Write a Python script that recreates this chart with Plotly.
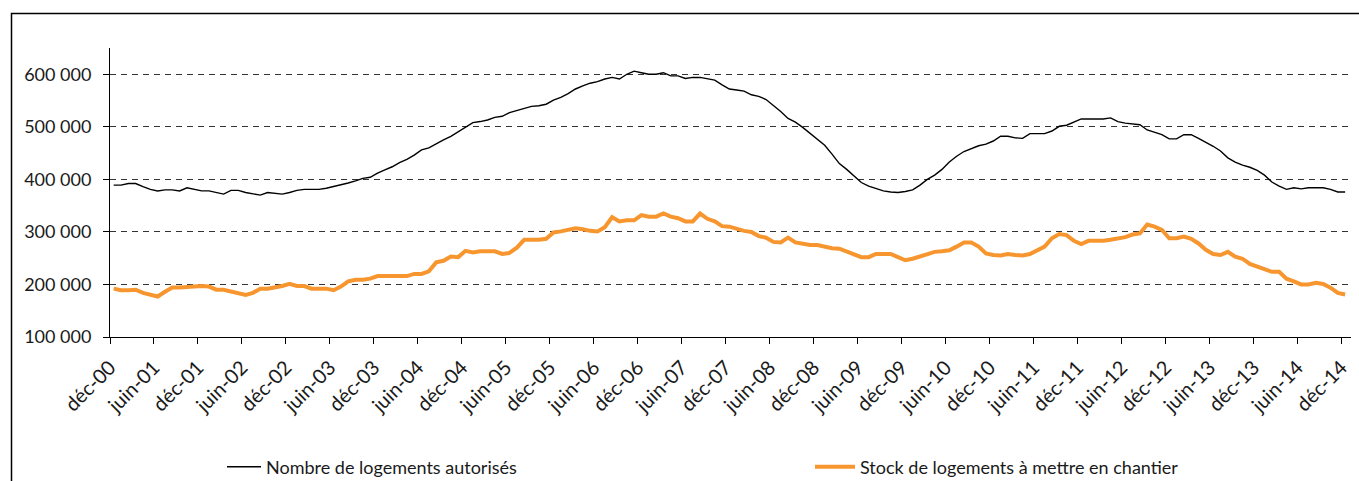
import plotly.graph_objects as go

# Monthly series, déc-2000 .. déc-2014 (169 months)
autorises = [
    389000, 389000, 392000, 392000, 386000, 381000, 378000, 380000, 380000, 378000,
    384000, 381000, 378000, 378000, 375000, 372000, 379000, 379000, 375000, 372000,
    370000, 375000, 373000, 372000, 375000, 379000, 381000, 381000, 381000, 383000,
    386000, 390000, 393000, 397000, 402000, 404000, 412000, 418000, 424000, 432000,
    438000, 446000, 456000, 460000, 468000, 475000, 482000, 491000, 500000, 508000,
    510000, 513000, 518000, 520000, 527000, 531000, 534000, 539000, 540000, 543000,
    551000, 556000, 563000, 572000, 578000, 583000, 586000, 591000, 594000, 591000,
    600000, 606000, 603000, 600000, 600000, 603000, 597000, 597000, 592000, 594000,
    594000, 591000, 589000, 580000, 572000, 570000, 568000, 561000, 558000, 552000,
    541000, 529000, 516000, 509000, 499000, 488000, 476000, 465000, 448000, 430000,
    419000, 406000, 394000, 387000, 382000, 378000, 376000, 375000, 377000, 380000,
    389000, 400000, 408000, 419000, 433000, 444000, 453000, 459000, 464000, 467000,
    473000, 482000, 482000, 479000, 478000, 487000, 487000, 487000, 492000, 501000,
    503000, 509000, 515000, 515000, 515000, 515000, 517000, 510000, 507000, 505000,
    504000, 494000, 490000, 485000, 477000, 477000, 485000, 485000, 478000, 471000,
    463000, 454000, 441000, 433000, 427000, 423000, 417000, 408000, 395000, 387000,
    381000, 384000, 382000, 384000, 384000, 384000, 381000, 376000, 376000,
]

stock = [
    192000, 189000, 189000, 190000, 184000, 181000, 177000, 186000, 194000, 194000,
    195000, 197000, 197000, 196000, 190000, 190000, 187000, 184000, 180000, 184000,
    192000, 192000, 194000, 197000, 201000, 197000, 197000, 192000, 192000, 192000,
    189000, 196000, 206000, 209000, 209000, 211000, 216000, 216000, 216000, 216000,
    216000, 220000, 220000, 225000, 242000, 245000, 253000, 252000, 264000, 261000,
    263000, 263000, 263000, 258000, 260000, 270000, 285000, 285000, 285000, 287000,
    299000, 301000, 304000, 307000, 305000, 302000, 301000, 309000, 328000, 320000,
    322000, 322000, 332000, 329000, 329000, 335000, 329000, 326000, 320000, 320000,
    335000, 325000, 320000, 311000, 310000, 305000, 302000, 300000, 292000, 289000,
    281000, 280000, 289000, 280000, 277000, 275000, 275000, 272000, 269000, 268000,
    263000, 259000, 252000, 252000, 258000, 258000, 258000, 252000, 246000, 249000,
    254000, 259000, 262000, 263000, 265000, 272000, 280000, 280000, 272000, 259000,
    256000, 255000, 258000, 256000, 255000, 258000, 266000, 272000, 288000, 296000,
    294000, 283000, 277000, 283000, 283000, 283000, 285000, 287000, 290000, 295000,
    297000, 314000, 310000, 304000, 288000, 288000, 291000, 287000, 278000, 266000,
    258000, 256000, 262000, 253000, 249000, 239000, 234000, 229000, 224000, 224000,
    211000, 206000, 200000, 200000, 203000, 201000, 194000, 184000, 181000,
]

tick_labels = [
    "déc-00", "juin-01", "déc-01", "juin-02", "déc-02", "juin-03", "déc-03",
    "juin-04", "déc-04", "juin-05", "déc-05", "juin-06", "déc-06", "juin-07",
    "déc-07", "juin-08", "déc-08", "juin-09", "déc-09", "juin-10", "déc-10",
    "juin-11", "déc-11", "juin-12", "déc-12", "juin-13", "déc-13", "juin-14",
    "déc-14",
]

y_ticks = [100000, 200000, 300000, 400000, 500000, 600000]

months = list(range(len(autorises)))
tick_pos = [6 * k - 0.5 for k in range(len(tick_labels))]

FONT = "Lato"
FS = 18
TXT = "#1a1a1a"

fig = go.Figure()
fig.add_trace(go.Scatter(
    x=months, y=autorises, mode="lines",
    name="Nombre de logements autorisés",
    line=dict(color="#000000", width=1.4),
    legend="legend",
))
fig.add_trace(go.Scatter(
    x=months, y=stock, mode="lines",
    name="Stock de logements à mettre en chantier",
    line=dict(color="#F7962F", width=4),
    legend="legend2",
))

W, H = 1359, 481
L, R, T, B = 110, 8, 48, 144
pw = W - L - R
ph = H - T - B


def px_to_paper_x(px):
    return (px - L) / pw


def px_to_paper_y(py):
    return (H - B - py) / ph


legend_common = dict(
    orientation="h",
    xref="container", yref="container",
    xanchor="left", yanchor="middle",
    font=dict(family=FONT, size=FS, color=TXT),
    bgcolor="rgba(0,0,0,0)",
)

fig.update_layout(
    width=W, height=H,
    margin=dict(l=L, r=R, t=T, b=B, pad=0, autoexpand=False),
    paper_bgcolor="white", plot_bgcolor="white",
    font=dict(family=FONT, size=FS, color=TXT),
    separators=", ",
    showlegend=True,
    legend=dict(x=222 / W, y=1 - 467 / H, itemwidth=34, **legend_common),
    legend2=dict(x=810 / W, y=1 - 467 / H, itemwidth=40, **legend_common),
    xaxis=dict(
        range=[-0.5, 168.8],
        tickmode="array", tickvals=tick_pos, ticktext=tick_labels,
        tickangle=-45,
        ticks="outside", ticklen=6, tickcolor="#000", tickwidth=1,
        showline=True, linecolor="#000", linewidth=1,
        showgrid=False, zeroline=False, automargin=False,
        ticklabelstandoff=4,
        tickfont=dict(family=FONT, size=20, color=TXT),
    ),
    yaxis=dict(
        range=[100000, 650000],
        tickmode="array", tickvals=y_ticks,
        tickformat=",d",
        ticks="outside", ticklen=6, tickcolor="#000", tickwidth=1,
        showline=True, linecolor="#000", linewidth=1,
        showgrid=True, gridcolor="#333333", gridwidth=1, griddash="6px,5px",
        zeroline=False, automargin=False,
        ticklabelstandoff=8,
        tickfont=dict(family=FONT, size=FS, color=TXT),
    ),
    shapes=[dict(
        type="rect", xref="paper", yref="paper",
        x0=px_to_paper_x(11.5), x1=px_to_paper_x(1370),
        y0=px_to_paper_y(520), y1=px_to_paper_y(13.5),
        line=dict(color="#000", width=1.5), fillcolor="rgba(0,0,0,0)",
        layer="below",
    )],
)

fig.write_html(
    "out.html",
    config={"displayModeBar": False},
    post_script="document.body.style.margin='0';document.body.style.overflow='hidden';",
)
